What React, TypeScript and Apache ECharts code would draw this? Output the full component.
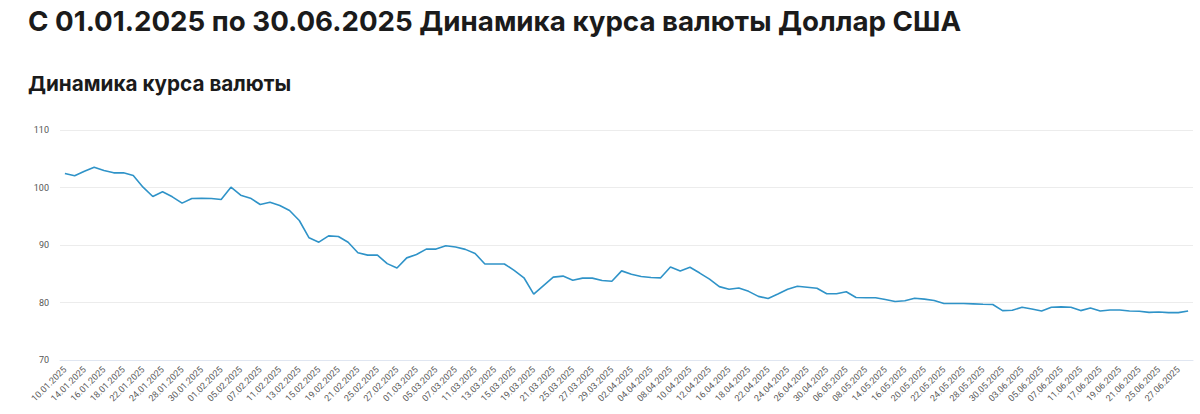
import React, { useEffect, useRef } from "react";
import * as echarts from "echarts";

const titleText = "С 01.01.2025 по 30.06.2025 Динамика курса валюты Доллар США";
const subtitleText = "Динамика курса валюты";

const categories: string[] = [
  "10.01.2025", "11.01.2025", "14.01.2025", "15.01.2025", "16.01.2025", "17.01.2025", "18.01.2025", "21.01.2025",
  "22.01.2025", "23.01.2025", "24.01.2025", "25.01.2025", "28.01.2025", "29.01.2025", "30.01.2025", "31.01.2025",
  "01.02.2025", "04.02.2025", "05.02.2025", "06.02.2025", "07.02.2025", "08.02.2025", "11.02.2025", "12.02.2025",
  "13.02.2025", "14.02.2025", "15.02.2025", "18.02.2025", "19.02.2025", "20.02.2025", "21.02.2025", "22.02.2025",
  "25.02.2025", "26.02.2025", "27.02.2025", "28.02.2025", "01.03.2025", "04.03.2025", "05.03.2025", "06.03.2025",
  "07.03.2025", "08.03.2025", "11.03.2025", "12.03.2025", "13.03.2025", "14.03.2025", "15.03.2025", "18.03.2025",
  "19.03.2025", "20.03.2025", "21.03.2025", "22.03.2025", "25.03.2025", "26.03.2025", "27.03.2025", "28.03.2025",
  "29.03.2025", "01.04.2025", "02.04.2025", "03.04.2025", "04.04.2025", "05.04.2025", "08.04.2025", "09.04.2025",
  "10.04.2025", "11.04.2025", "12.04.2025", "15.04.2025", "16.04.2025", "17.04.2025", "18.04.2025", "19.04.2025",
  "22.04.2025", "23.04.2025", "24.04.2025", "25.04.2025", "26.04.2025", "29.04.2025", "30.04.2025", "01.05.2025",
  "06.05.2025", "07.05.2025", "08.05.2025", "13.05.2025", "14.05.2025", "15.05.2025", "16.05.2025", "17.05.2025",
  "20.05.2025", "21.05.2025", "22.05.2025", "23.05.2025", "24.05.2025", "27.05.2025", "28.05.2025", "29.05.2025",
  "30.05.2025", "31.05.2025", "03.06.2025", "04.06.2025", "05.06.2025", "06.06.2025", "07.06.2025", "10.06.2025",
  "11.06.2025", "14.06.2025", "17.06.2025", "18.06.2025", "19.06.2025", "20.06.2025", "21.06.2025", "24.06.2025",
  "25.06.2025", "26.06.2025", "27.06.2025", "28.06.2025",
];

const rateUSD: number[] = [
  102.43, 102.03, 102.84, 103.54, 102.96, 102.55, 102.55, 102.09, 100.06, 98.43,
  99.25, 98.38, 97.28, 98.09, 98.14, 98.09, 97.91, 100.06, 98.67, 98.14,
  97.04, 97.45, 96.87, 96.0, 94.26, 91.25, 90.49, 91.59, 91.48,
  90.47, 88.65, 88.24, 88.24, 86.76, 86.0, 87.76, 88.35, 89.29, 89.29,
  89.88, 89.65, 89.24, 88.53, 86.7, 86.7, 86.7, 85.6, 84.3, 81.47,
  82.94, 84.41, 84.59, 83.88, 84.24, 84.24, 83.82, 83.7, 85.5, 84.9,
  84.53, 84.35, 84.29, 86.18, 85.47, 86.12, 85.12, 84.06, 82.76, 82.29,
  82.53, 81.94, 81.06, 80.71, 81.47, 82.29, 82.82, 82.65, 82.47, 81.53,
  81.53, 81.88, 80.88, 80.82, 80.82, 80.53, 80.18, 80.3, 80.75,
  80.59, 80.35, 79.82, 79.82, 79.82, 79.76, 79.7, 79.65, 78.59, 78.65,
  79.18, 78.88, 78.53, 79.18, 79.24, 79.18, 78.59, 79.06, 78.53, 78.7,
  78.7, 78.53, 78.47, 78.29, 78.35, 78.24, 78.24, 78.53,
];

const yMin = 70;
const yMax = 110;
const yStep = 10;

export default function App() {
  const ref = useRef<HTMLDivElement>(null);

  useEffect(() => {
    document.body.style.margin = "0";
    if (!ref.current) return;
    const chart = echarts.init(ref.current, null, { renderer: "svg" });
    chart.setOption({
      animation: false,
      backgroundColor: "#ffffff",
      textStyle: { fontFamily: "Inter, 'Noto Sans', sans-serif" },
      title: [
        {
          text: titleText,
          left: 28,
          top: 7,
          padding: 0,
          textStyle: {
            fontSize: 27.7,
            fontWeight: 700,
            color: "#1b1b1b",
            fontFamily: "Inter, 'Noto Sans', sans-serif",
          },
        },
        {
          text: subtitleText,
          left: 28,
          top: 73,
          padding: 0,
          textStyle: {
            fontSize: 20.7,
            fontWeight: 700,
            color: "#1b1b1b",
            fontFamily: "Inter, 'Noto Sans', sans-serif",
          },
        },
      ],
      grid: { left: 60, right: 7, top: 130, bottom: 54, containLabel: false },
      xAxis: {
        type: "category",
        data: categories,
        boundaryGap: true,
        axisLine: { show: true, lineStyle: { color: "#e0e6f1" } },
        axisTick: { show: false },
        axisLabel: {
          interval: 1,
          rotate: 45,
          fontSize: 9,
          color: "#5a5a5a",
          margin: 8,
          fontFamily: "Roboto, Arial, sans-serif",
        },
      },
      yAxis: {
        type: "value",
        min: yMin,
        max: yMax,
        interval: yStep,
        axisLine: { show: false },
        axisTick: { show: false },
        axisLabel: {
          fontSize: 9,
          color: "#555555",
          margin: 11,
          fontFamily: "Roboto, Arial, sans-serif",
        },
        splitLine: { lineStyle: { color: "#ececec" } },
      },
      series: [
        {
          type: "line",
          data: rateUSD,
          showSymbol: false,
          symbol: "none",
          lineStyle: { color: "#2f93c8", width: 1.6 },
          itemStyle: { color: "#2f93c8" },
        },
      ],
    });
    return () => chart.dispose();
  }, []);

  return <div ref={ref} style={{ width: 1200, height: 414 }} />;
}
